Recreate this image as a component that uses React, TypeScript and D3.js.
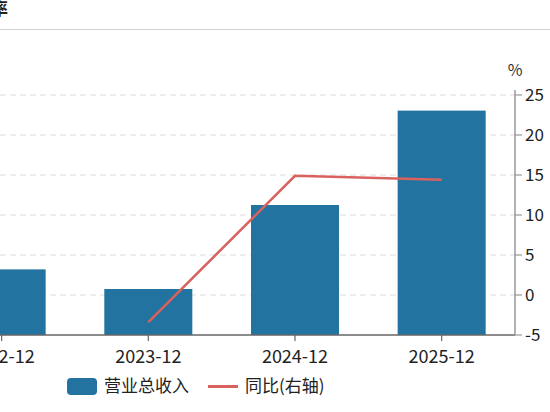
import React from "react";
import * as d3 from "d3";

const categories = ["2022-12", "2023-12", "2024-12", "2025-12"];
const revenue = [146.4, 141.5, 162.5, 186.1];
const yoy: (number | null)[] = [null, -3.4, 14.9, 14.4];
const rightTicks = [-5, 0, 5, 10, 15, 20, 25];
const titleText = "营业总收入及增长率";
const legendLabels = ["营业总收入", "同比(右轴)"];

const W = 550;
const H = 412;
const FONT = "'Noto Sans CJK SC', 'Noto Sans', sans-serif";
const BAR = "#22739f";
const LINE = "#d9625f";

export default function App() {
  const left = -71.7;
  const right = 515;
  const top = 95;
  const bottom = 335;

  const x = d3.scaleBand<string>().domain(categories).range([left, right]).paddingInner(0).paddingOuter(0);
  const yL = d3.scaleLinear().domain([130, 190]).range([bottom, top]);
  const yR = d3.scaleLinear().domain([-5, 25]).range([bottom, top]);
  const bw = x.bandwidth() * 0.6;
  const cx = (c: string) => (x(c) as number) + x.bandwidth() / 2;

  const linePts = categories
    .map((c, i) => ({ c, v: yoy[i] }))
    .filter((d) => d.v !== null) as { c: string; v: number }[];
  const lineGen = d3
    .line<{ c: string; v: number }>()
    .x((d) => cx(d.c))
    .y((d) => yR(d.v));

  return (
    <svg
      width={W}
      height={H}
      style={{ position: "fixed", top: 0, left: 0, background: "#fff" }}
      fontFamily={FONT}
    >
      <text x={8} y={15} textAnchor="end" fontSize={17} fontWeight="bold" fill="#222">
        {titleText}
      </text>
      <line x1={0} x2={W} y1={29.5} y2={29.5} stroke="#cfcfcf" strokeWidth={1.2} />

      {rightTicks
        .filter((t) => t !== -5)
        .map((t) => (
          <line
            key={"g" + t}
            x1={0}
            x2={right}
            y1={yR(t)}
            y2={yR(t)}
            stroke="#dcdcdc"
            strokeWidth={1}
            strokeDasharray="6,4"
          />
        ))}

      {categories.map((c, i) => (
        <rect
          key={c}
          x={cx(c) - bw / 2}
          y={yL(revenue[i])}
          width={bw}
          height={bottom - yL(revenue[i])}
          fill={BAR}
        />
      ))}

      <path d={lineGen(linePts) || ""} fill="none" stroke={LINE} strokeWidth={2.5} />

      <line x1={0} x2={right} y1={bottom} y2={bottom} stroke="#666" strokeWidth={1.5} />
      {categories.map((c) => (
        <g key={"t" + c}>
          <line x1={cx(c)} x2={cx(c)} y1={bottom} y2={bottom + 6} stroke="#666" strokeWidth={1.2} />
          <text x={cx(c)} y={bottom + 28} textAnchor="middle" fontSize={18} fill="#222">
            {c}
          </text>
        </g>
      ))}

      <line x1={right} x2={right} y1={top - 5} y2={bottom} stroke="#999" strokeWidth={1.5} />
      {rightTicks.map((t) => (
        <g key={"r" + t}>
          <line x1={right} x2={right + 7} y1={yR(t)} y2={yR(t)} stroke="#999" strokeWidth={1.2} />
          <text x={right + 10} y={yR(t)} dy="0.35em" fontSize={17} fill="#222">
            {t}
          </text>
        </g>
      ))}
      <text x={right} y={76} textAnchor="middle" fontSize={16} fill="#333">
        %
      </text>

      <rect x={67} y={378} width={30} height={17} rx={4} fill={BAR} />
      <text x={104} y={386.5} dy="0.35em" fontSize={17} fill="#222">
        {legendLabels[0]}
      </text>
      <line x1={208} x2={238} y1={386.5} y2={386.5} stroke={LINE} strokeWidth={3} />
      <text x={245} y={386.5} dy="0.35em" fontSize={17} fill="#222">
        {legendLabels[1]}
      </text>
    </svg>
  );
}
